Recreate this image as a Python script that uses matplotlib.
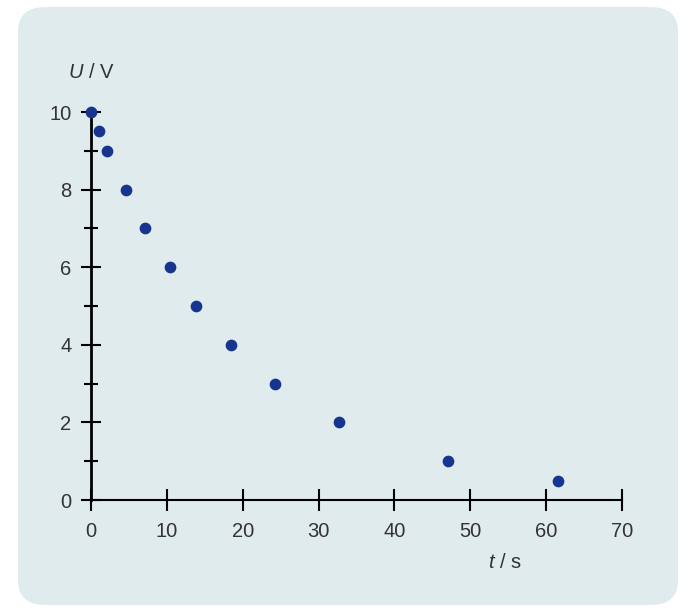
import matplotlib.pyplot as plt
from matplotlib.patches import FancyBboxPatch
from matplotlib.ticker import MultipleLocator

plt.rcParams['font.family'] = ['Liberation Sans', 'DejaVu Sans']
plt.rcParams['mathtext.fontset'] = 'custom'
plt.rcParams['mathtext.rm'] = 'Liberation Sans'
plt.rcParams['mathtext.it'] = 'Liberation Sans:italic'

# discharge curve
t_vals = [0, 1.05, 2.1, 4.6, 7.1, 10.4, 13.8, 18.5, 24.3, 32.7, 47.1, 61.6]
u_vals = [10, 9.5, 9, 8, 7, 6, 5, 4, 3, 2, 1, 0.5]

W, H = 691, 610
fig = plt.figure(figsize=(W / 100, H / 100), dpi=100)
fig.patch.set_facecolor("white")

bg = FancyBboxPatch((18 / W, 5 / H), 660 / W, 598 / H,
                    boxstyle="round,pad=0,rounding_size=0.04",
                    transform=fig.transFigure, facecolor="#e0ebee",
                    edgecolor="none", zorder=-1)
fig.patches.append(bg)

ax = fig.add_axes([91 / W, (H - 500) / H, 531 / W, 388 / H])
ax.set_zorder(1)
ax.set_facecolor("none")
ax.set_xlim(0, 70)
ax.set_ylim(0, 10)

for s in ["top", "right"]:
    ax.spines[s].set_visible(False)
ax.spines["left"].set_linewidth(2)
ax.spines["bottom"].set_linewidth(1.5)

ax.xaxis.set_major_locator(MultipleLocator(10))
ax.yaxis.set_major_locator(MultipleLocator(2))
ax.yaxis.set_minor_locator(MultipleLocator(1))
ax.tick_params(axis="x", which="major", direction="inout", length=16, width=1.5,
               labelsize=14.5, colors="black", labelcolor="#333333", pad=8)
ax.tick_params(axis="y", which="major", direction="inout", length=14, width=1.5,
               labelsize=14.5, colors="black", labelcolor="#333333", pad=7)
ax.tick_params(axis="y", which="minor", direction="inout", length=10, width=1.5)

ax.scatter(t_vals, u_vals, s=55, color="#17348f", clip_on=False, zorder=5)

fig.text(91 / W, (H - 72) / H, "$U$ / V", fontsize=14.5, color="#333333",
         ha="center", va="center")
fig.text(505 / W, (H - 563) / H, "$t$ / s", fontsize=14.5, color="#333333",
         ha="center", va="center")

fig.savefig("out.png", dpi=100)
